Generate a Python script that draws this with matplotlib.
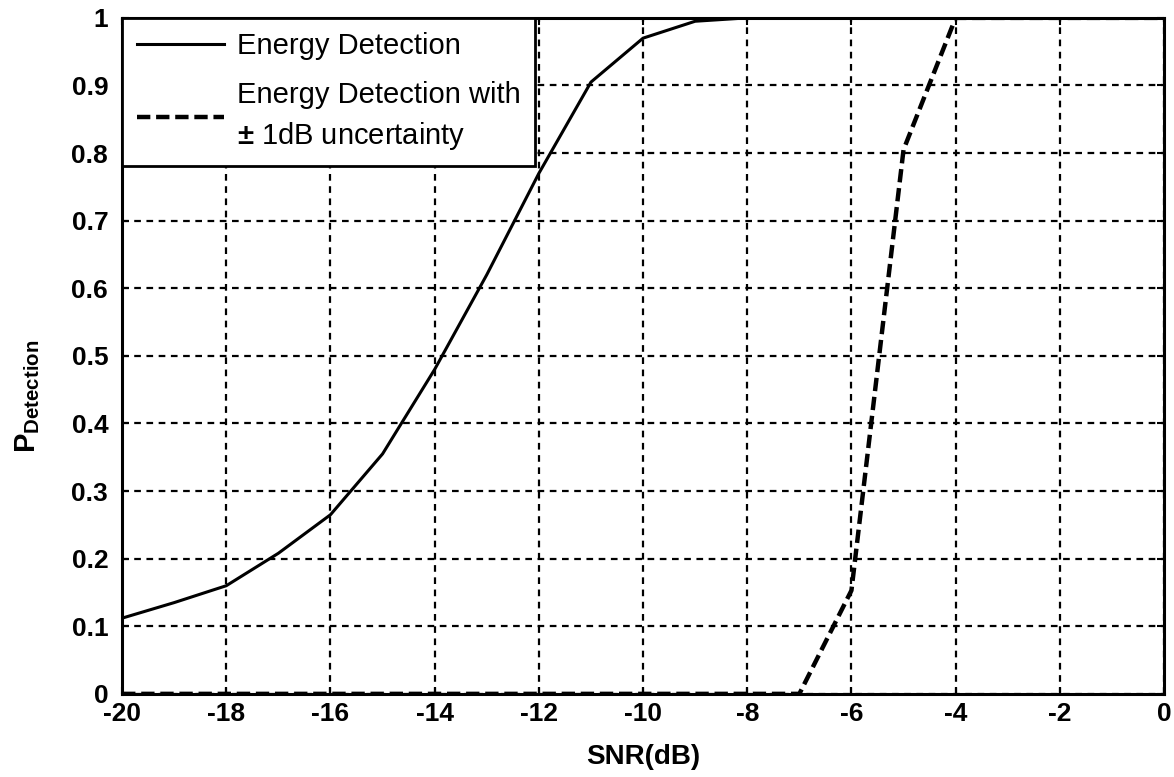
import matplotlib
matplotlib.use("Agg")
import matplotlib.pyplot as plt
import numpy as np

plt.rcParams['font.family'] = ['Liberation Sans', 'DejaVu Sans']
plt.rcParams['mathtext.fontset'] = 'custom'
plt.rcParams['mathtext.rm'] = 'Liberation Sans:bold'
plt.rcParams['mathtext.bf'] = 'Liberation Sans:bold'

# data
snr = [-20, -19, -18, -17, -16, -15, -14, -13, -12, -11, -10, -9, -8, -7, -6, -5, -4, -3, -2, -1, 0]
p_energy = [0.112, 0.135, 0.16, 0.208, 0.265, 0.355, 0.48, 0.62, 0.77, 0.905, 0.97, 0.995,
            1.0, 1.0, 1.0, 1.0, 1.0, 1.0, 1.0, 1.0, 1.0]
p_uncert = [0, 0, 0, 0, 0, 0, 0, 0, 0, 0, 0, 0, 0, 0, 0.153, 0.805, 1.0, 1.0, 1.0, 1.0, 1.0]

xticks = [-20, -18, -16, -14, -12, -10, -8, -6, -4, -2, 0]
yticks = [0, 0.1, 0.2, 0.3, 0.4, 0.5, 0.6, 0.7, 0.8, 0.9, 1]

fig = plt.figure(figsize=(11.74, 7.77), dpi=100)
ax = fig.add_axes([0.104, 0.107, 0.8875, 0.870])

ax.plot(snr, p_energy, color='black', lw=2.2, label='Energy Detection')
ax.plot(snr, p_uncert, color='black', lw=3.2, ls=(0, (3, 1.3)),
        label='Energy Detection with\n$\\pm$ 1dB uncertainty')

ax.set_xlim(-20, 0)
ax.set_ylim(0, 1)
ax.set_xticks(xticks)
ax.set_yticks(yticks)
ax.set_xticklabels([str(t) for t in xticks], fontsize=19, fontweight='bold')
ax.set_yticklabels(['0'] + ['%.1f' % t for t in yticks[1:-1]] + ['1'], fontsize=19, fontweight='bold')
ax.tick_params(direction='in', length=5, width=1.5, top=True, right=True)
ax.tick_params(axis='x', pad=6)
ax.tick_params(axis='y', pad=10)
ax.grid(True, color='black', ls=(0, (3, 2.5)), lw=1.6)
for s in ax.spines.values():
    s.set_linewidth(2.2)

ax.set_xlabel('SNR(dB)', fontsize=20, fontweight='bold')
ax.xaxis.set_label_coords(0.5, -0.074)
ax.set_ylabel(r'$\mathrm{P_{Detection}}$', fontsize=21)
ax.yaxis.set_label_coords(-0.077, 0.44)

leg = ax.legend(loc='upper left', borderaxespad=0, fontsize=21, handlelength=3.0,
                fancybox=False, framealpha=1, edgecolor='black', borderpad=0.5,
                labelspacing=0.7, handletextpad=0.43)
leg.get_frame().set_linewidth(2)
for t in leg.get_texts():
    t.set_linespacing(1.45)

fig.savefig('out.png', dpi=100)
